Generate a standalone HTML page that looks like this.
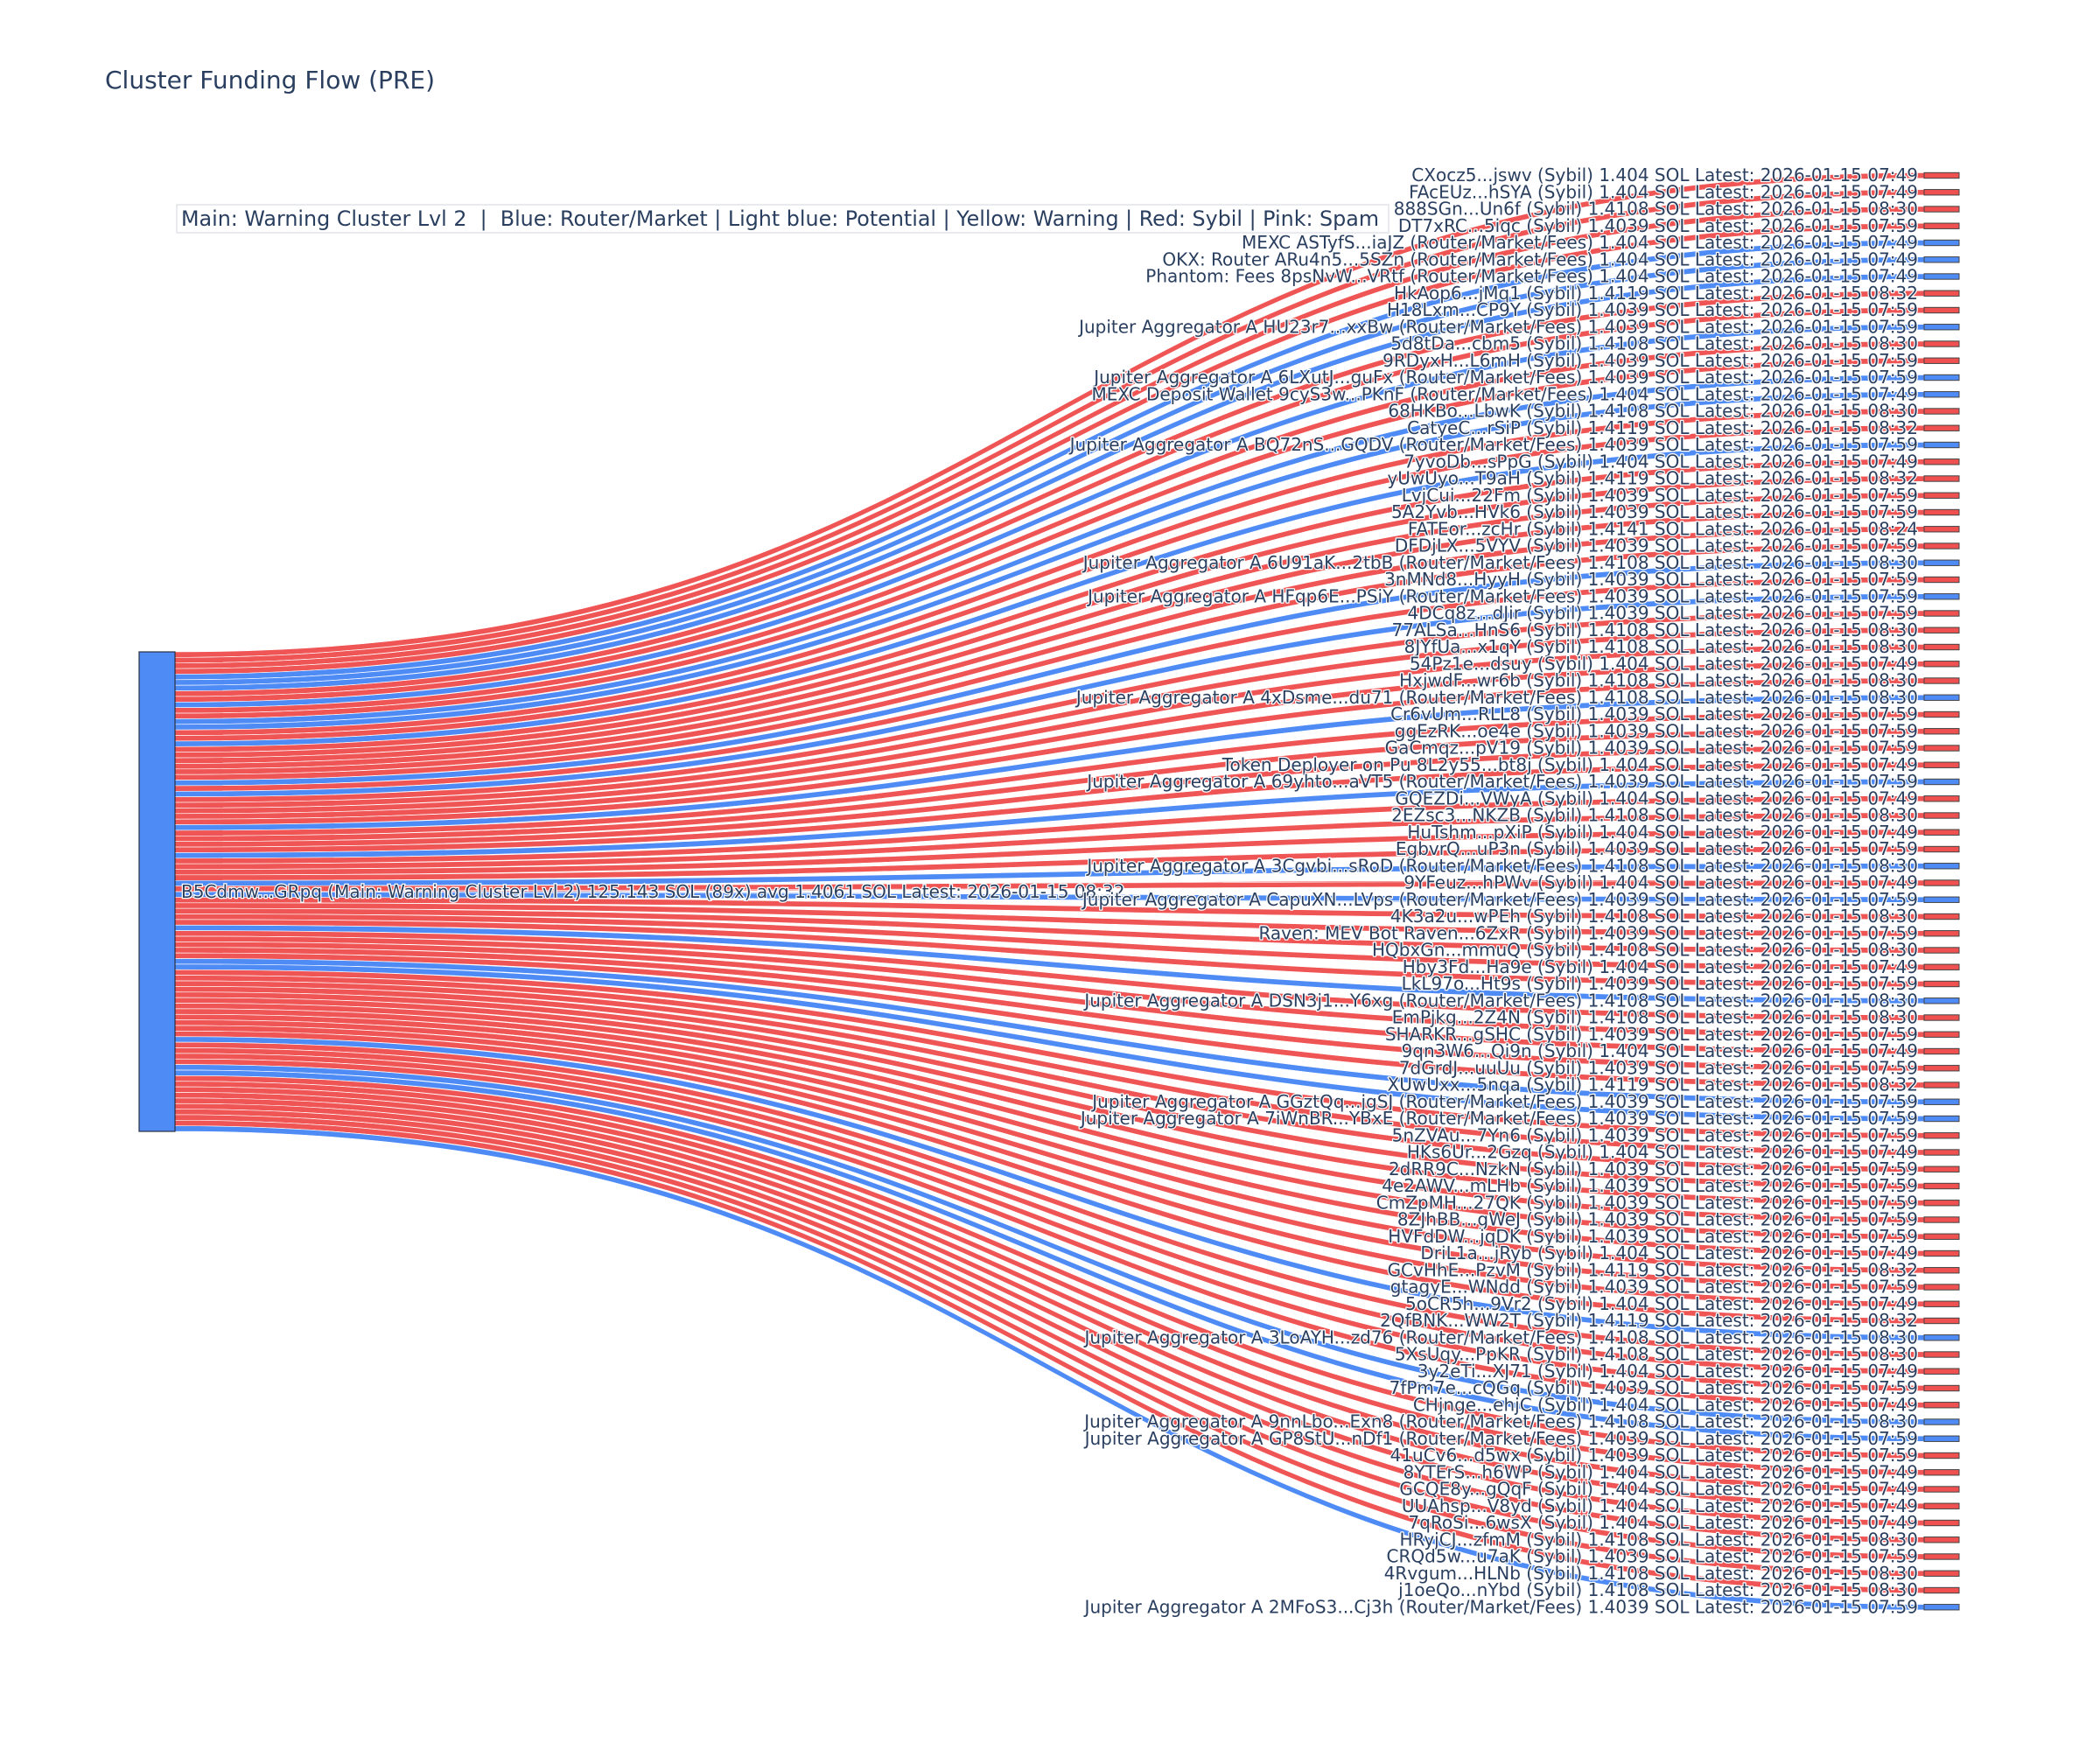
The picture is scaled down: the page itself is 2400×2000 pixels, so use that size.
<!DOCTYPE html>
<html><head><meta charset="utf-8"><style>
html,body{margin:0;padding:0;background:#fff;}
svg{display:block;}
.l{font-family:"DejaVu Sans","Liberation Sans",sans-serif;font-size:20px;fill:#2a3f5f;text-anchor:end;stroke:#fff;stroke-width:2.5px;paint-order:stroke;stroke-linejoin:round;}
</style></head><body>
<svg id="s" width="2400" height="2000" viewBox="0 0 2400 2000" xmlns="http://www.w3.org/2000/svg">
<rect width="2400" height="2000" fill="#fff"/>
<text x="120" y="101" font-family="DejaVu Sans, Liberation Sans, sans-serif" font-size="28" fill="#2a3f5f">Cluster Funding Flow (PRE)</text>
<g id="links"></g>
<g id="nodes"></g>
<rect x="202" y="234" width="1385" height="32" fill="#fff" stroke="#e2e4ea" stroke-width="1.5"/>
<text x="207" y="258" font-family="DejaVu Sans, Liberation Sans, sans-serif" font-size="23.8" fill="#2a3f5f" xml:space="preserve">Main: Warning Cluster Lvl 2  |  Blue: Router/Market | Light blue: Potential | Yellow: Warning | Red: Sybil | Pink: Spam</text>
<text x="207" y="1026" font-family="DejaVu Sans, Liberation Sans, sans-serif" font-size="20" fill="#2a3f5f" stroke="#fff" stroke-width="2.5" paint-order="stroke">B5Cdmw...GRpq (Main: Warning Cluster Lvl 2) 125.143 SOL (89x) avg 1.4061 SOL Latest: 2026-01-15 08:32</text>
<g>
<text class="l" x="2192" y="207">CXocz5...jswv (Sybil) 1.404 SOL Latest: 2026-01-15 07:49</text>
<text class="l" x="2192" y="226.25">FAcEUz...hSYA (Sybil) 1.404 SOL Latest: 2026-01-15 07:49</text>
<text class="l" x="2192" y="245.5">888SGn...Un6f (Sybil) 1.4108 SOL Latest: 2026-01-15 08:30</text>
<text class="l" x="2192" y="264.75">DT7xRC...5iqc (Sybil) 1.4039 SOL Latest: 2026-01-15 07:59</text>
<text class="l" x="2192" y="284">MEXC ASTyfS...iaJZ (Router/Market/Fees) 1.404 SOL Latest: 2026-01-15 07:49</text>
<text class="l" x="2192" y="303.25">OKX: Router ARu4n5...5SZn (Router/Market/Fees) 1.404 SOL Latest: 2026-01-15 07:49</text>
<text class="l" x="2192" y="322.5">Phantom: Fees 8psNvW...VRtf (Router/Market/Fees) 1.404 SOL Latest: 2026-01-15 07:49</text>
<text class="l" x="2192" y="341.75">HkAop6...jMq1 (Sybil) 1.4119 SOL Latest: 2026-01-15 08:32</text>
<text class="l" x="2192" y="361">H18Lxm...CP9Y (Sybil) 1.4039 SOL Latest: 2026-01-15 07:59</text>
<text class="l" x="2192" y="380.25">Jupiter Aggregator A HU23r7...xxBw (Router/Market/Fees) 1.4039 SOL Latest: 2026-01-15 07:59</text>
<text class="l" x="2192" y="399.5">5d8tDa...cbm5 (Sybil) 1.4108 SOL Latest: 2026-01-15 08:30</text>
<text class="l" x="2192" y="418.75">9RDyxH...L6mH (Sybil) 1.4039 SOL Latest: 2026-01-15 07:59</text>
<text class="l" x="2192" y="438">Jupiter Aggregator A 6LXutJ...guFx (Router/Market/Fees) 1.4039 SOL Latest: 2026-01-15 07:59</text>
<text class="l" x="2192" y="457.25">MEXC Deposit Wallet 9cyS3w...PKnF (Router/Market/Fees) 1.404 SOL Latest: 2026-01-15 07:49</text>
<text class="l" x="2192" y="476.5">68HKBo...LbwK (Sybil) 1.4108 SOL Latest: 2026-01-15 08:30</text>
<text class="l" x="2192" y="495.75">CatyeC...rSiP (Sybil) 1.4119 SOL Latest: 2026-01-15 08:32</text>
<text class="l" x="2192" y="515">Jupiter Aggregator A BQ72nS...GQDV (Router/Market/Fees) 1.4039 SOL Latest: 2026-01-15 07:59</text>
<text class="l" x="2192" y="534.25">7yvoDb...sPpG (Sybil) 1.404 SOL Latest: 2026-01-15 07:49</text>
<text class="l" x="2192" y="553.5">yUwUyo...T9aH (Sybil) 1.4119 SOL Latest: 2026-01-15 08:32</text>
<text class="l" x="2192" y="572.75">LvjCui...22Fm (Sybil) 1.4039 SOL Latest: 2026-01-15 07:59</text>
<text class="l" x="2192" y="592">5A2Yvb...HVk6 (Sybil) 1.4039 SOL Latest: 2026-01-15 07:59</text>
<text class="l" x="2192" y="611.25">FATEor...zcHr (Sybil) 1.4141 SOL Latest: 2026-01-15 08:24</text>
<text class="l" x="2192" y="630.5">DFDjLX...5VYV (Sybil) 1.4039 SOL Latest: 2026-01-15 07:59</text>
<text class="l" x="2192" y="649.75">Jupiter Aggregator A 6U91aK...2tbB (Router/Market/Fees) 1.4108 SOL Latest: 2026-01-15 08:30</text>
<text class="l" x="2192" y="669">3nMNd8...HyyH (Sybil) 1.4039 SOL Latest: 2026-01-15 07:59</text>
<text class="l" x="2192" y="688.25">Jupiter Aggregator A HFqp6E...PSiY (Router/Market/Fees) 1.4039 SOL Latest: 2026-01-15 07:59</text>
<text class="l" x="2192" y="707.5">4DCq8z...dJir (Sybil) 1.4039 SOL Latest: 2026-01-15 07:59</text>
<text class="l" x="2192" y="726.75">77ALSa...HnS6 (Sybil) 1.4108 SOL Latest: 2026-01-15 08:30</text>
<text class="l" x="2192" y="746">8JYfUa...x1qY (Sybil) 1.4108 SOL Latest: 2026-01-15 08:30</text>
<text class="l" x="2192" y="765.25">54Pz1e...dsuy (Sybil) 1.404 SOL Latest: 2026-01-15 07:49</text>
<text class="l" x="2192" y="784.5">HxjwdF...wr6b (Sybil) 1.4108 SOL Latest: 2026-01-15 08:30</text>
<text class="l" x="2192" y="803.75">Jupiter Aggregator A 4xDsme...du71 (Router/Market/Fees) 1.4108 SOL Latest: 2026-01-15 08:30</text>
<text class="l" x="2192" y="823">Cr6vUm...RLL8 (Sybil) 1.4039 SOL Latest: 2026-01-15 07:59</text>
<text class="l" x="2192" y="842.25">ggEzRK...oe4e (Sybil) 1.4039 SOL Latest: 2026-01-15 07:59</text>
<text class="l" x="2192" y="861.5">GaCmqz...pV19 (Sybil) 1.4039 SOL Latest: 2026-01-15 07:59</text>
<text class="l" x="2192" y="880.75">Token Deployer on Pu 8L2y55...bt8j (Sybil) 1.404 SOL Latest: 2026-01-15 07:49</text>
<text class="l" x="2192" y="900">Jupiter Aggregator A 69yhto...aVT5 (Router/Market/Fees) 1.4039 SOL Latest: 2026-01-15 07:59</text>
<text class="l" x="2192" y="919.25">GQEZDi...VWyA (Sybil) 1.404 SOL Latest: 2026-01-15 07:49</text>
<text class="l" x="2192" y="938.5">2EZsc3...NKZB (Sybil) 1.4108 SOL Latest: 2026-01-15 08:30</text>
<text class="l" x="2192" y="957.75">HuTshm...pXiP (Sybil) 1.404 SOL Latest: 2026-01-15 07:49</text>
<text class="l" x="2192" y="977">EgbvrQ...uP3n (Sybil) 1.4039 SOL Latest: 2026-01-15 07:59</text>
<text class="l" x="2192" y="996.25">Jupiter Aggregator A 3Cgvbi...sRoD (Router/Market/Fees) 1.4108 SOL Latest: 2026-01-15 08:30</text>
<text class="l" x="2192" y="1015.5">9YFeuz...hPWv (Sybil) 1.404 SOL Latest: 2026-01-15 07:49</text>
<text class="l" x="2192" y="1034.75">Jupiter Aggregator A CapuXN...LVps (Router/Market/Fees) 1.4039 SOL Latest: 2026-01-15 07:59</text>
<text class="l" x="2192" y="1054">4K3a2u...wPEh (Sybil) 1.4108 SOL Latest: 2026-01-15 08:30</text>
<text class="l" x="2192" y="1073.25">Raven: MEV Bot Raven...6ZxR (Sybil) 1.4039 SOL Latest: 2026-01-15 07:59</text>
<text class="l" x="2192" y="1092.5">HQbxGn...mmuQ (Sybil) 1.4108 SOL Latest: 2026-01-15 08:30</text>
<text class="l" x="2192" y="1111.75">Hby3Fd...Ha9e (Sybil) 1.404 SOL Latest: 2026-01-15 07:49</text>
<text class="l" x="2192" y="1131">LkL97o...Ht9s (Sybil) 1.4039 SOL Latest: 2026-01-15 07:59</text>
<text class="l" x="2192" y="1150.25">Jupiter Aggregator A DSN3j1...Y6xg (Router/Market/Fees) 1.4108 SOL Latest: 2026-01-15 08:30</text>
<text class="l" x="2192" y="1169.5">EmPjkg...2Z4N (Sybil) 1.4108 SOL Latest: 2026-01-15 08:30</text>
<text class="l" x="2192" y="1188.75">SHARKR...gSHC (Sybil) 1.4039 SOL Latest: 2026-01-15 07:59</text>
<text class="l" x="2192" y="1208">9qn3W6...Qi9n (Sybil) 1.404 SOL Latest: 2026-01-15 07:49</text>
<text class="l" x="2192" y="1227.25">7dGrdJ...uuUu (Sybil) 1.4039 SOL Latest: 2026-01-15 07:59</text>
<text class="l" x="2192" y="1246.5">XUwUxx...5nqa (Sybil) 1.4119 SOL Latest: 2026-01-15 08:32</text>
<text class="l" x="2192" y="1265.75">Jupiter Aggregator A GGztQq...jgSJ (Router/Market/Fees) 1.4039 SOL Latest: 2026-01-15 07:59</text>
<text class="l" x="2192" y="1285">Jupiter Aggregator A 7iWnBR...YBxE (Router/Market/Fees) 1.4039 SOL Latest: 2026-01-15 07:59</text>
<text class="l" x="2192" y="1304.25">5nZVAu...7Yn6 (Sybil) 1.4039 SOL Latest: 2026-01-15 07:59</text>
<text class="l" x="2192" y="1323.5">HKs6Ur...2Gzq (Sybil) 1.404 SOL Latest: 2026-01-15 07:49</text>
<text class="l" x="2192" y="1342.75">2dRR9C...NzkN (Sybil) 1.4039 SOL Latest: 2026-01-15 07:59</text>
<text class="l" x="2192" y="1362">4e2AWV...mLHb (Sybil) 1.4039 SOL Latest: 2026-01-15 07:59</text>
<text class="l" x="2192" y="1381.25">CmZpMH...27QK (Sybil) 1.4039 SOL Latest: 2026-01-15 07:59</text>
<text class="l" x="2192" y="1400.5">8ZJhBB...gWeJ (Sybil) 1.4039 SOL Latest: 2026-01-15 07:59</text>
<text class="l" x="2192" y="1419.75">HVFdDW...jqDK (Sybil) 1.4039 SOL Latest: 2026-01-15 07:59</text>
<text class="l" x="2192" y="1439">DriL1a...jRyb (Sybil) 1.404 SOL Latest: 2026-01-15 07:49</text>
<text class="l" x="2192" y="1458.25">GCvHhE...PzvM (Sybil) 1.4119 SOL Latest: 2026-01-15 08:32</text>
<text class="l" x="2192" y="1477.5">gtagyE...WNdd (Sybil) 1.4039 SOL Latest: 2026-01-15 07:59</text>
<text class="l" x="2192" y="1496.75">5oCR5h...9Vr2 (Sybil) 1.404 SOL Latest: 2026-01-15 07:49</text>
<text class="l" x="2192" y="1516">2QfBNK...WW2T (Sybil) 1.4119 SOL Latest: 2026-01-15 08:32</text>
<text class="l" x="2192" y="1535.25">Jupiter Aggregator A 3LoAYH...zd76 (Router/Market/Fees) 1.4108 SOL Latest: 2026-01-15 08:30</text>
<text class="l" x="2192" y="1554.5">5XsUqy...PpKR (Sybil) 1.4108 SOL Latest: 2026-01-15 08:30</text>
<text class="l" x="2192" y="1573.75">3y2eTi...XJ71 (Sybil) 1.404 SOL Latest: 2026-01-15 07:49</text>
<text class="l" x="2192" y="1593">7fPm7e...cQGq (Sybil) 1.4039 SOL Latest: 2026-01-15 07:59</text>
<text class="l" x="2192" y="1612.25">CHjnge...ehjC (Sybil) 1.404 SOL Latest: 2026-01-15 07:49</text>
<text class="l" x="2192" y="1631.5">Jupiter Aggregator A 9nnLbo...Exn8 (Router/Market/Fees) 1.4108 SOL Latest: 2026-01-15 08:30</text>
<text class="l" x="2192" y="1650.75">Jupiter Aggregator A GP8StU...nDf1 (Router/Market/Fees) 1.4039 SOL Latest: 2026-01-15 07:59</text>
<text class="l" x="2192" y="1670">41uCv6...d5wx (Sybil) 1.4039 SOL Latest: 2026-01-15 07:59</text>
<text class="l" x="2192" y="1689.25">8YTErS...h6WP (Sybil) 1.404 SOL Latest: 2026-01-15 07:49</text>
<text class="l" x="2192" y="1708.5">GCQE8y...gQqF (Sybil) 1.404 SOL Latest: 2026-01-15 07:49</text>
<text class="l" x="2192" y="1727.75">UUAhsp...V8yd (Sybil) 1.404 SOL Latest: 2026-01-15 07:49</text>
<text class="l" x="2192" y="1747">7qRoSi...6wsX (Sybil) 1.404 SOL Latest: 2026-01-15 07:49</text>
<text class="l" x="2192" y="1766.25">HRyjCJ...zfmM (Sybil) 1.4108 SOL Latest: 2026-01-15 08:30</text>
<text class="l" x="2192" y="1785.5">CRQd5w...u7aK (Sybil) 1.4039 SOL Latest: 2026-01-15 07:59</text>
<text class="l" x="2192" y="1804.75">4Rvgum...HLNb (Sybil) 1.4108 SOL Latest: 2026-01-15 08:30</text>
<text class="l" x="2192" y="1824">j1oeQo...nYbd (Sybil) 1.4108 SOL Latest: 2026-01-15 08:30</text>
<text class="l" x="2192" y="1843.25">Jupiter Aggregator A 2MFoS3...Cj3h (Router/Market/Fees) 1.4039 SOL Latest: 2026-01-15 07:59</text>
</g>
</svg>
<script>
(function(){
var t="RRRR"+"BBB"+"RR"+"B"+"RR"+"BB"+"RR"+"B"+"RRRRRR"+"B"+"R"+"B"+"RRRRR"+"B"+"RRRR"+"B"+"RRRR"+"B"+"R"+"B"+"RRRRR"+"B"+"RRRRR"+"BB"+"RRRRRRRRRRRR"+"B"+"RRRR"+"BB"+"RRRRRRRRR"+"B";
var n=t.length,NS="http://www.w3.org/2000/svg";
var L=document.getElementById("links"),N=document.getElementById("nodes");
var sx=200,tx=2199,mx=(sx+tx)/2,s0=745,s1=1293,h=(s1-s0)/n;
var red="#ef5555",blue="#4f8bf5";
for(var i=0;i<n;i++){
 var a=s0+i*h,b=a+h,c=200.5+i*19.25,ta=c-h/2,tb=c+h/2;
 var p=document.createElementNS(NS,"path");
 p.setAttribute("d","M"+sx+","+a+"C"+mx+","+a+" "+mx+","+ta+" "+tx+","+ta+"L"+tx+","+tb+"C"+mx+","+tb+" "+mx+","+b+" "+sx+","+b+"Z");
 p.setAttribute("fill",t[i]=="R"?red:blue);
 p.setAttribute("stroke","#fff");p.setAttribute("stroke-width","0.6");
 L.appendChild(p);
 var r=document.createElementNS(NS,"rect");
 r.setAttribute("x",tx);r.setAttribute("y",ta);r.setAttribute("width",40);r.setAttribute("height",h);
 r.setAttribute("fill",t[i]=="R"?"#ef5050":blue);r.setAttribute("stroke","#444");r.setAttribute("stroke-width","1");
 N.appendChild(r);
}
var s=document.createElementNS(NS,"rect");
s.setAttribute("x",159);s.setAttribute("y",s0);s.setAttribute("width",41);s.setAttribute("height",s1-s0);
s.setAttribute("fill",blue);s.setAttribute("stroke","#2a3040");s.setAttribute("stroke-width","1.2");
N.appendChild(s);
})();
</script>
</body></html>
